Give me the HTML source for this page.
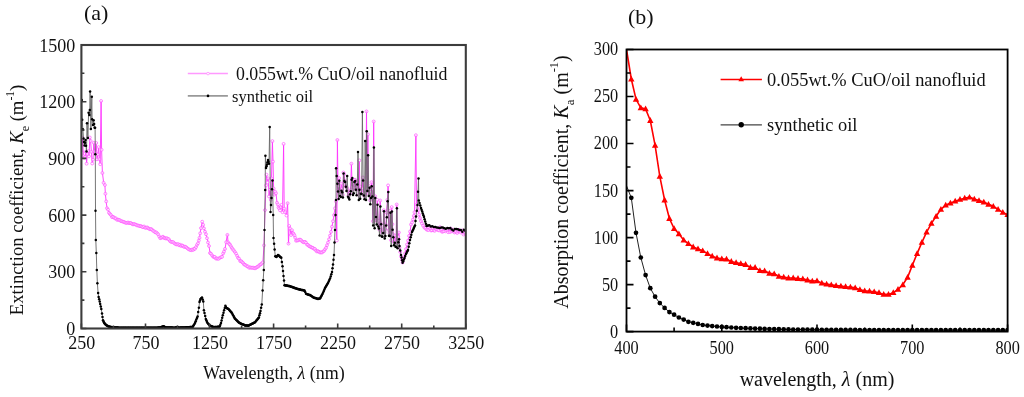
<!DOCTYPE html><html><head><meta charset="utf-8"><style>html,body{margin:0;padding:0;background:#fff;overflow:hidden}svg{display:block;will-change:transform}</style></head><body><svg width="1024" height="397" viewBox="0 0 1024 397">
<rect width="1024" height="397" fill="#fff"/>
<g font-family="'Liberation Serif', serif" fill="#111">
<text x="84" y="20" font-size="22">(a)</text>
<text x="628" y="24" font-size="22">(b)</text>
</g>
<!-- LEFT PANEL -->
<defs><clipPath id="cl"><rect x="81.4" y="45.0" width="384.4" height="283.5"/></clipPath>
<clipPath id="cr"><rect x="626.5" y="49.5" width="381.1" height="282.1"/></clipPath></defs>
<g clip-path="url(#cl)">
<polyline points="81.8,152.4 82.6,138.1 83.4,155.9 84.2,158.1 85.0,156.9 85.8,151.5 86.6,163.2 87.4,153.6 88.2,151.2 89.0,156.3 89.8,137.7 90.6,141.3 91.4,151.9 92.2,163.1 93.0,159.3 93.8,142.6 94.6,151.0 95.4,153.3 96.2,143.4 97.0,159.4 97.8,154.8 98.6,147.5 99.4,159.2 100.2,164.0 101.1,101.0 101.6,150.0 102.4,172.6 103.6,182.2 104.9,185.1 105.4,194.3 106.2,202.0 107.0,207.8 109.0,212.5 112.0,216.8 116.0,219.0 120.0,220.8 130.0,223.4 145.1,227.2 152.0,229.5 157.2,233.2 160.2,237.8 163.0,237.0 167.8,238.5 171.0,241.5 175.3,243.8 182.9,246.1 187.0,248.0 190.4,249.8 195.0,249.1 198.0,243.0 199.5,237.8 201.0,228.0 202.2,221.9 204.0,228.0 207.0,237.8 209.0,246.0 210.0,252.9 213.0,256.5 217.6,258.9 222.1,256.6 225.0,249.0 227.4,234.4 228.1,242.7 230.0,245.0 232.7,248.7 236.0,254.0 240.2,260.8 245.0,265.0 249.3,267.6 255.3,268.3 259.0,266.0 262.9,262.3 264.0,245.0 265.0,210.0 266.0,185.0 266.5,175.0 267.5,182.0 268.2,178.0 269.0,196.0 270.0,190.0 270.8,200.0 271.5,178.0 272.4,141.4 273.0,161.0 273.6,188.0 274.2,195.0 275.2,192.0 276.0,193.0 277.0,203.0 278.5,207.0 280.0,210.0 281.5,205.0 282.5,212.0 283.6,144.5 284.2,209.0 285.2,212.0 286.5,215.0 287.6,202.6 288.5,244.1 289.2,226.0 290.0,228.2 291.0,235.0 292.0,230.0 293.0,233.5 294.5,236.0 296.0,240.6 300.0,240.0 305.0,242.3 310.0,246.7 313.0,248.0 317.0,251.1 322.0,252.9 325.0,250.0 328.0,242.3 331.0,232.0 333.0,221.2 335.0,208.0 336.0,201.8 336.8,240.0 337.4,139.7 338.0,186.0 338.4,191.2 339.1,178.2 339.8,191.7 340.6,190.9 341.3,183.5 342.0,188.8 342.7,194.5 343.4,172.6 344.2,174.0 344.9,181.4 345.6,186.1 346.3,186.6 347.0,188.7 347.8,191.3 348.5,195.5 349.2,193.4 349.9,193.7 350.6,189.5 351.4,163.5 352.1,184.1 352.8,189.3 353.5,187.6 354.2,179.9 355.0,179.8 355.7,186.8 356.4,189.5 357.1,181.4 357.8,180.5 358.6,194.3 359.3,161.0 360.0,191.2 360.7,186.4 361.4,190.5 362.2,188.5 362.9,178.1 363.6,192.9 364.3,196.1 365.0,195.3 365.8,192.9 366.5,110.9 367.2,188.2 367.9,134.4 368.6,192.9 369.4,186.2 370.1,199.7 370.8,191.7 371.5,181.8 372.2,189.8 373.0,221.1 373.7,121.2 374.4,221.2 375.1,195.7 375.8,216.7 376.6,220.4 377.3,200.3 378.0,222.0 378.7,220.7 379.4,230.2 380.2,200.0 380.9,223.8 381.6,232.2 382.3,230.5 383.0,232.2 383.8,210.6 384.5,232.6 385.2,228.8 385.9,225.0 386.6,212.2 387.4,200.1 388.1,186.0 388.8,230.5 389.5,233.9 390.2,211.0 391.0,239.9 391.7,207.2 392.4,223.7 393.1,234.1 393.8,242.6 394.6,235.1 395.3,241.4 396.0,242.9 396.7,204.0 397.4,242.5 398.2,236.6 398.9,231.9 399.5,248.0 401.0,256.0 402.6,262.5 404.0,257.0 407.0,245.0 409.0,236.0 410.0,232.0 411.0,225.0 413.0,220.0 414.5,212.0 415.9,135.3 416.5,205.0 418.2,210.6 420.0,218.0 422.0,223.0 424.5,228.0 426.5,229.0 427.5,229.4 428.4,230.0 429.3,227.6 430.2,229.2 431.1,230.3 432.0,230.2 432.9,228.3 433.8,230.1 434.7,230.5 435.6,229.4 436.5,229.7 437.4,228.7 438.3,229.7 439.2,229.9 440.1,227.7 441.0,230.3 441.9,232.0 442.8,231.6 443.7,231.0 444.6,229.6 445.5,231.3 446.4,230.7 447.3,230.2 448.2,232.0 449.1,228.8 450.0,231.9 450.9,228.8 451.8,231.4 452.7,231.0 453.6,230.0 454.5,232.2 455.4,231.4 456.3,232.0 457.2,233.5 458.1,230.7 459.0,229.7 459.9,231.1 460.8,232.8 461.7,230.9 462.6,230.8 463.5,234.2 464.4,233.2 465.3,232.3" fill="none" stroke="#ff33ff" stroke-width="0.9"/>
<g fill="#fff" fill-opacity="0.6" stroke="#ff55ff" stroke-width="0.7"><circle cx="81.8" cy="152.9" r="1.45"/><circle cx="82.6" cy="137.9" r="1.45"/><circle cx="83.4" cy="156.1" r="1.45"/><circle cx="84.2" cy="157.8" r="1.45"/><circle cx="85.0" cy="156.9" r="1.45"/><circle cx="85.8" cy="151.8" r="1.45"/><circle cx="86.6" cy="163.7" r="1.45"/><circle cx="87.4" cy="154.0" r="1.45"/><circle cx="88.2" cy="151.1" r="1.45"/><circle cx="89.0" cy="156.4" r="1.45"/><circle cx="89.8" cy="137.5" r="1.45"/><circle cx="90.6" cy="140.9" r="1.45"/><circle cx="91.4" cy="151.9" r="1.45"/><circle cx="92.2" cy="163.5" r="1.45"/><circle cx="93.0" cy="159.7" r="1.45"/><circle cx="93.8" cy="142.8" r="1.45"/><circle cx="94.6" cy="151.5" r="1.45"/><circle cx="95.4" cy="153.0" r="1.45"/><circle cx="96.2" cy="143.0" r="1.45"/><circle cx="97.0" cy="159.3" r="1.45"/><circle cx="97.8" cy="154.5" r="1.45"/><circle cx="98.6" cy="147.1" r="1.45"/><circle cx="99.4" cy="159.1" r="1.45"/><circle cx="100.2" cy="164.2" r="1.45"/><circle cx="101.1" cy="101.0" r="1.45"/><circle cx="101.6" cy="149.8" r="1.45"/><circle cx="102.4" cy="173.0" r="1.45"/><circle cx="103.6" cy="182.8" r="1.45"/><circle cx="104.9" cy="185.0" r="1.45"/><circle cx="105.4" cy="193.8" r="1.45"/><circle cx="106.2" cy="201.4" r="1.45"/><circle cx="107.0" cy="208.2" r="1.45"/><circle cx="108.0" cy="209.6" r="1.45"/><circle cx="109.0" cy="212.8" r="1.45"/><circle cx="110.0" cy="214.0" r="1.45"/><circle cx="111.0" cy="215.1" r="1.45"/><circle cx="112.0" cy="217.1" r="1.45"/><circle cx="113.0" cy="216.8" r="1.45"/><circle cx="114.0" cy="217.5" r="1.45"/><circle cx="115.0" cy="218.4" r="1.45"/><circle cx="116.0" cy="218.4" r="1.45"/><circle cx="117.0" cy="219.8" r="1.45"/><circle cx="118.0" cy="219.6" r="1.45"/><circle cx="119.0" cy="219.9" r="1.45"/><circle cx="120.0" cy="220.3" r="1.45"/><circle cx="121.0" cy="221.2" r="1.45"/><circle cx="122.0" cy="221.3" r="1.45"/><circle cx="123.0" cy="221.7" r="1.45"/><circle cx="124.0" cy="222.0" r="1.45"/><circle cx="125.0" cy="222.5" r="1.45"/><circle cx="126.0" cy="222.9" r="1.45"/><circle cx="127.0" cy="222.8" r="1.45"/><circle cx="128.0" cy="222.5" r="1.45"/><circle cx="129.0" cy="223.1" r="1.45"/><circle cx="130.0" cy="223.0" r="1.45"/><circle cx="131.0" cy="223.1" r="1.45"/><circle cx="132.0" cy="223.9" r="1.45"/><circle cx="133.0" cy="224.4" r="1.45"/><circle cx="134.0" cy="224.0" r="1.45"/><circle cx="135.0" cy="224.4" r="1.45"/><circle cx="136.0" cy="224.7" r="1.45"/><circle cx="137.0" cy="225.4" r="1.45"/><circle cx="138.1" cy="225.5" r="1.45"/><circle cx="139.1" cy="225.8" r="1.45"/><circle cx="140.1" cy="226.2" r="1.45"/><circle cx="141.1" cy="226.1" r="1.45"/><circle cx="142.1" cy="226.8" r="1.45"/><circle cx="143.1" cy="227.2" r="1.45"/><circle cx="144.1" cy="226.5" r="1.45"/><circle cx="145.1" cy="227.7" r="1.45"/><circle cx="146.1" cy="227.8" r="1.45"/><circle cx="147.1" cy="227.4" r="1.45"/><circle cx="148.1" cy="228.1" r="1.45"/><circle cx="149.0" cy="228.7" r="1.45"/><circle cx="150.0" cy="229.3" r="1.45"/><circle cx="151.0" cy="229.0" r="1.45"/><circle cx="152.0" cy="229.6" r="1.45"/><circle cx="153.0" cy="230.7" r="1.45"/><circle cx="154.1" cy="231.3" r="1.45"/><circle cx="155.1" cy="232.3" r="1.45"/><circle cx="156.2" cy="232.4" r="1.45"/><circle cx="157.2" cy="233.4" r="1.45"/><circle cx="158.2" cy="234.4" r="1.45"/><circle cx="159.2" cy="236.5" r="1.45"/><circle cx="160.2" cy="238.2" r="1.45"/><circle cx="161.1" cy="237.7" r="1.45"/><circle cx="162.1" cy="237.5" r="1.45"/><circle cx="163.0" cy="236.7" r="1.45"/><circle cx="164.0" cy="237.8" r="1.45"/><circle cx="164.9" cy="238.2" r="1.45"/><circle cx="165.9" cy="238.5" r="1.45"/><circle cx="166.8" cy="238.2" r="1.45"/><circle cx="167.8" cy="238.8" r="1.45"/><circle cx="168.9" cy="239.3" r="1.45"/><circle cx="169.9" cy="241.0" r="1.45"/><circle cx="171.0" cy="241.9" r="1.45"/><circle cx="172.1" cy="241.9" r="1.45"/><circle cx="173.2" cy="242.1" r="1.45"/><circle cx="174.2" cy="243.2" r="1.45"/><circle cx="175.3" cy="243.9" r="1.45"/><circle cx="176.2" cy="244.4" r="1.45"/><circle cx="177.2" cy="244.4" r="1.45"/><circle cx="178.2" cy="244.1" r="1.45"/><circle cx="179.1" cy="245.3" r="1.45"/><circle cx="180.1" cy="244.7" r="1.45"/><circle cx="181.0" cy="245.9" r="1.45"/><circle cx="182.0" cy="245.4" r="1.45"/><circle cx="182.9" cy="245.9" r="1.45"/><circle cx="183.9" cy="246.9" r="1.45"/><circle cx="184.9" cy="246.6" r="1.45"/><circle cx="186.0" cy="247.1" r="1.45"/><circle cx="187.0" cy="248.0" r="1.45"/><circle cx="188.1" cy="248.9" r="1.45"/><circle cx="189.3" cy="249.6" r="1.45"/><circle cx="190.4" cy="250.0" r="1.45"/><circle cx="191.3" cy="250.2" r="1.45"/><circle cx="192.2" cy="249.5" r="1.45"/><circle cx="193.2" cy="249.9" r="1.45"/><circle cx="194.1" cy="248.7" r="1.45"/><circle cx="195.0" cy="248.8" r="1.45"/><circle cx="196.0" cy="247.1" r="1.45"/><circle cx="197.0" cy="244.8" r="1.45"/><circle cx="198.0" cy="243.3" r="1.45"/><circle cx="198.8" cy="240.6" r="1.45"/><circle cx="199.5" cy="237.8" r="1.45"/><circle cx="200.2" cy="233.3" r="1.45"/><circle cx="201.0" cy="228.1" r="1.45"/><circle cx="202.2" cy="221.7" r="1.45"/><circle cx="203.1" cy="224.8" r="1.45"/><circle cx="204.0" cy="228.4" r="1.45"/><circle cx="205.0" cy="231.7" r="1.45"/><circle cx="206.0" cy="234.2" r="1.45"/><circle cx="207.0" cy="238.2" r="1.45"/><circle cx="208.0" cy="242.5" r="1.45"/><circle cx="209.0" cy="246.0" r="1.45"/><circle cx="210.0" cy="253.0" r="1.45"/><circle cx="211.0" cy="253.7" r="1.45"/><circle cx="212.0" cy="255.3" r="1.45"/><circle cx="213.0" cy="256.5" r="1.45"/><circle cx="213.9" cy="257.1" r="1.45"/><circle cx="214.8" cy="256.9" r="1.45"/><circle cx="215.8" cy="258.5" r="1.45"/><circle cx="216.7" cy="258.4" r="1.45"/><circle cx="217.6" cy="258.8" r="1.45"/><circle cx="218.7" cy="258.7" r="1.45"/><circle cx="219.8" cy="257.8" r="1.45"/><circle cx="221.0" cy="257.2" r="1.45"/><circle cx="222.1" cy="256.8" r="1.45"/><circle cx="223.1" cy="253.5" r="1.45"/><circle cx="224.0" cy="251.6" r="1.45"/><circle cx="225.0" cy="248.9" r="1.45"/><circle cx="226.2" cy="242.2" r="1.45"/><circle cx="227.4" cy="234.9" r="1.45"/><circle cx="228.1" cy="242.4" r="1.45"/><circle cx="229.1" cy="243.8" r="1.45"/><circle cx="230.0" cy="244.6" r="1.45"/><circle cx="230.9" cy="246.2" r="1.45"/><circle cx="231.8" cy="247.8" r="1.45"/><circle cx="232.7" cy="249.2" r="1.45"/><circle cx="233.8" cy="250.4" r="1.45"/><circle cx="234.9" cy="252.0" r="1.45"/><circle cx="236.0" cy="253.6" r="1.45"/><circle cx="237.1" cy="255.8" r="1.45"/><circle cx="238.1" cy="257.9" r="1.45"/><circle cx="239.1" cy="258.7" r="1.45"/><circle cx="240.2" cy="261.1" r="1.45"/><circle cx="241.2" cy="261.1" r="1.45"/><circle cx="242.1" cy="262.1" r="1.45"/><circle cx="243.1" cy="263.0" r="1.45"/><circle cx="244.0" cy="264.4" r="1.45"/><circle cx="245.0" cy="264.8" r="1.45"/><circle cx="246.1" cy="265.5" r="1.45"/><circle cx="247.2" cy="266.4" r="1.45"/><circle cx="248.2" cy="266.5" r="1.45"/><circle cx="249.3" cy="267.9" r="1.45"/><circle cx="250.3" cy="267.3" r="1.45"/><circle cx="251.3" cy="267.8" r="1.45"/><circle cx="252.3" cy="267.7" r="1.45"/><circle cx="253.3" cy="267.7" r="1.45"/><circle cx="254.3" cy="268.2" r="1.45"/><circle cx="255.3" cy="268.2" r="1.45"/><circle cx="256.2" cy="267.6" r="1.45"/><circle cx="257.1" cy="267.0" r="1.45"/><circle cx="258.1" cy="266.6" r="1.45"/><circle cx="259.0" cy="265.6" r="1.45"/><circle cx="260.0" cy="264.7" r="1.45"/><circle cx="260.9" cy="264.3" r="1.45"/><circle cx="261.9" cy="263.4" r="1.45"/><circle cx="262.9" cy="262.3" r="1.45"/><circle cx="264.0" cy="245.4" r="1.45"/><circle cx="265.0" cy="210.1" r="1.45"/><circle cx="266.0" cy="185.4" r="1.45"/><circle cx="266.5" cy="174.7" r="1.45"/><circle cx="267.5" cy="182.3" r="1.45"/><circle cx="268.2" cy="178.4" r="1.45"/><circle cx="269.0" cy="196.5" r="1.45"/><circle cx="270.0" cy="189.8" r="1.45"/><circle cx="270.8" cy="199.8" r="1.45"/><circle cx="271.5" cy="178.5" r="1.45"/><circle cx="272.4" cy="141.1" r="1.45"/><circle cx="273.0" cy="161.6" r="1.45"/><circle cx="273.6" cy="188.5" r="1.45"/><circle cx="274.2" cy="194.6" r="1.45"/><circle cx="275.2" cy="191.7" r="1.45"/><circle cx="276.0" cy="193.3" r="1.45"/><circle cx="277.0" cy="202.7" r="1.45"/><circle cx="277.8" cy="204.5" r="1.45"/><circle cx="278.5" cy="207.4" r="1.45"/><circle cx="279.2" cy="208.4" r="1.45"/><circle cx="280.0" cy="210.3" r="1.45"/><circle cx="280.8" cy="207.1" r="1.45"/><circle cx="281.5" cy="204.9" r="1.45"/><circle cx="282.5" cy="212.2" r="1.45"/><circle cx="283.6" cy="143.9" r="1.45"/><circle cx="284.2" cy="208.6" r="1.45"/><circle cx="285.2" cy="212.2" r="1.45"/><circle cx="286.5" cy="215.5" r="1.45"/><circle cx="287.6" cy="203.2" r="1.45"/><circle cx="288.5" cy="243.6" r="1.45"/><circle cx="289.2" cy="226.0" r="1.45"/><circle cx="290.0" cy="228.5" r="1.45"/><circle cx="291.0" cy="235.0" r="1.45"/><circle cx="292.0" cy="230.2" r="1.45"/><circle cx="293.0" cy="233.1" r="1.45"/><circle cx="293.8" cy="234.2" r="1.45"/><circle cx="294.5" cy="235.5" r="1.45"/><circle cx="295.2" cy="237.7" r="1.45"/><circle cx="296.0" cy="240.7" r="1.45"/><circle cx="297.0" cy="240.5" r="1.45"/><circle cx="298.0" cy="240.4" r="1.45"/><circle cx="299.0" cy="239.7" r="1.45"/><circle cx="300.0" cy="239.6" r="1.45"/><circle cx="301.0" cy="240.1" r="1.45"/><circle cx="302.0" cy="241.3" r="1.45"/><circle cx="303.0" cy="242.0" r="1.45"/><circle cx="304.0" cy="242.4" r="1.45"/><circle cx="305.0" cy="241.8" r="1.45"/><circle cx="306.0" cy="242.7" r="1.45"/><circle cx="307.0" cy="244.6" r="1.45"/><circle cx="308.0" cy="244.9" r="1.45"/><circle cx="309.0" cy="246.1" r="1.45"/><circle cx="310.0" cy="246.5" r="1.45"/><circle cx="311.0" cy="247.1" r="1.45"/><circle cx="312.0" cy="247.6" r="1.45"/><circle cx="313.0" cy="247.9" r="1.45"/><circle cx="314.0" cy="248.9" r="1.45"/><circle cx="315.0" cy="249.0" r="1.45"/><circle cx="316.0" cy="250.6" r="1.45"/><circle cx="317.0" cy="251.5" r="1.45"/><circle cx="318.0" cy="251.1" r="1.45"/><circle cx="319.0" cy="251.8" r="1.45"/><circle cx="320.0" cy="252.5" r="1.45"/><circle cx="321.0" cy="252.4" r="1.45"/><circle cx="322.0" cy="252.5" r="1.45"/><circle cx="323.0" cy="251.5" r="1.45"/><circle cx="324.0" cy="251.0" r="1.45"/><circle cx="325.0" cy="249.4" r="1.45"/><circle cx="326.0" cy="247.9" r="1.45"/><circle cx="327.0" cy="245.2" r="1.45"/><circle cx="328.0" cy="242.5" r="1.45"/><circle cx="329.0" cy="239.3" r="1.45"/><circle cx="330.0" cy="235.6" r="1.45"/><circle cx="331.0" cy="231.9" r="1.45"/><circle cx="332.0" cy="226.7" r="1.45"/><circle cx="333.0" cy="221.2" r="1.45"/><circle cx="334.0" cy="215.2" r="1.45"/><circle cx="335.0" cy="208.4" r="1.45"/><circle cx="336.0" cy="201.5" r="1.45"/><circle cx="336.8" cy="240.5" r="1.45"/><circle cx="337.4" cy="140.0" r="1.45"/><circle cx="338.0" cy="186.3" r="1.45"/><circle cx="338.4" cy="191.6" r="1.45"/><circle cx="339.1" cy="178.1" r="1.45"/><circle cx="339.8" cy="192.2" r="1.45"/><circle cx="340.6" cy="191.4" r="1.45"/><circle cx="341.3" cy="183.7" r="1.45"/><circle cx="342.0" cy="189.1" r="1.45"/><circle cx="342.7" cy="194.8" r="1.45"/><circle cx="343.4" cy="172.5" r="1.45"/><circle cx="344.2" cy="174.3" r="1.45"/><circle cx="344.9" cy="180.9" r="1.45"/><circle cx="345.6" cy="185.9" r="1.45"/><circle cx="346.3" cy="186.6" r="1.45"/><circle cx="347.0" cy="188.1" r="1.45"/><circle cx="347.8" cy="191.1" r="1.45"/><circle cx="348.5" cy="195.7" r="1.45"/><circle cx="349.2" cy="193.5" r="1.45"/><circle cx="349.9" cy="193.4" r="1.45"/><circle cx="350.6" cy="190.1" r="1.45"/><circle cx="351.4" cy="163.7" r="1.45"/><circle cx="352.1" cy="183.9" r="1.45"/><circle cx="352.8" cy="189.5" r="1.45"/><circle cx="353.5" cy="187.7" r="1.45"/><circle cx="354.2" cy="179.9" r="1.45"/><circle cx="355.0" cy="179.7" r="1.45"/><circle cx="355.7" cy="187.4" r="1.45"/><circle cx="356.4" cy="189.6" r="1.45"/><circle cx="357.1" cy="181.7" r="1.45"/><circle cx="357.8" cy="180.8" r="1.45"/><circle cx="358.6" cy="194.9" r="1.45"/><circle cx="359.3" cy="160.4" r="1.45"/><circle cx="360.0" cy="191.4" r="1.45"/><circle cx="360.7" cy="186.7" r="1.45"/><circle cx="361.4" cy="190.2" r="1.45"/><circle cx="362.2" cy="188.4" r="1.45"/><circle cx="362.9" cy="177.5" r="1.45"/><circle cx="363.6" cy="192.6" r="1.45"/><circle cx="364.3" cy="196.0" r="1.45"/><circle cx="365.0" cy="194.8" r="1.45"/><circle cx="365.8" cy="192.6" r="1.45"/><circle cx="366.5" cy="111.4" r="1.45"/><circle cx="367.2" cy="188.3" r="1.45"/><circle cx="367.9" cy="134.4" r="1.45"/><circle cx="368.6" cy="193.5" r="1.45"/><circle cx="369.4" cy="186.2" r="1.45"/><circle cx="370.1" cy="200.3" r="1.45"/><circle cx="370.8" cy="191.9" r="1.45"/><circle cx="371.5" cy="182.2" r="1.45"/><circle cx="372.2" cy="189.3" r="1.45"/><circle cx="373.0" cy="221.2" r="1.45"/><circle cx="373.7" cy="121.5" r="1.45"/><circle cx="374.4" cy="220.7" r="1.45"/><circle cx="375.1" cy="196.2" r="1.45"/><circle cx="375.8" cy="216.3" r="1.45"/><circle cx="376.6" cy="220.4" r="1.45"/><circle cx="377.3" cy="199.9" r="1.45"/><circle cx="378.0" cy="222.0" r="1.45"/><circle cx="378.7" cy="220.9" r="1.45"/><circle cx="379.4" cy="229.6" r="1.45"/><circle cx="380.2" cy="200.5" r="1.45"/><circle cx="380.9" cy="223.7" r="1.45"/><circle cx="381.6" cy="232.2" r="1.45"/><circle cx="382.3" cy="230.6" r="1.45"/><circle cx="383.0" cy="232.1" r="1.45"/><circle cx="383.8" cy="210.3" r="1.45"/><circle cx="384.5" cy="232.8" r="1.45"/><circle cx="385.2" cy="228.9" r="1.45"/><circle cx="385.9" cy="224.7" r="1.45"/><circle cx="386.6" cy="212.5" r="1.45"/><circle cx="387.4" cy="199.9" r="1.45"/><circle cx="388.1" cy="185.4" r="1.45"/><circle cx="388.8" cy="230.2" r="1.45"/><circle cx="389.5" cy="233.3" r="1.45"/><circle cx="390.2" cy="210.6" r="1.45"/><circle cx="391.0" cy="240.2" r="1.45"/><circle cx="391.7" cy="207.1" r="1.45"/><circle cx="392.4" cy="224.2" r="1.45"/><circle cx="393.1" cy="234.4" r="1.45"/><circle cx="393.8" cy="242.1" r="1.45"/><circle cx="394.6" cy="235.7" r="1.45"/><circle cx="395.3" cy="242.0" r="1.45"/><circle cx="396.0" cy="242.4" r="1.45"/><circle cx="396.7" cy="204.5" r="1.45"/><circle cx="397.4" cy="242.4" r="1.45"/><circle cx="398.2" cy="236.6" r="1.45"/><circle cx="398.9" cy="232.5" r="1.45"/><circle cx="399.5" cy="247.7" r="1.45"/><circle cx="400.2" cy="252.0" r="1.45"/><circle cx="401.0" cy="256.5" r="1.45"/><circle cx="401.8" cy="259.5" r="1.45"/><circle cx="402.6" cy="262.5" r="1.45"/><circle cx="404.0" cy="257.6" r="1.45"/><circle cx="405.0" cy="253.4" r="1.45"/><circle cx="406.0" cy="249.1" r="1.45"/><circle cx="407.0" cy="244.5" r="1.45"/><circle cx="408.0" cy="240.6" r="1.45"/><circle cx="409.0" cy="235.9" r="1.45"/><circle cx="410.0" cy="231.6" r="1.45"/><circle cx="411.0" cy="224.5" r="1.45"/><circle cx="412.0" cy="222.5" r="1.45"/><circle cx="413.0" cy="219.5" r="1.45"/><circle cx="413.8" cy="215.9" r="1.45"/><circle cx="414.5" cy="212.2" r="1.45"/><circle cx="415.9" cy="135.2" r="1.45"/><circle cx="416.5" cy="204.7" r="1.45"/><circle cx="417.4" cy="207.9" r="1.45"/><circle cx="418.2" cy="210.5" r="1.45"/><circle cx="419.1" cy="214.6" r="1.45"/><circle cx="420.0" cy="218.0" r="1.45"/><circle cx="421.0" cy="221.1" r="1.45"/><circle cx="422.0" cy="223.5" r="1.45"/><circle cx="423.2" cy="225.8" r="1.45"/><circle cx="424.5" cy="227.7" r="1.45"/><circle cx="425.5" cy="228.0" r="1.45"/><circle cx="426.5" cy="229.5" r="1.45"/><circle cx="427.5" cy="229.7" r="1.45"/><circle cx="428.4" cy="230.1" r="1.45"/><circle cx="429.3" cy="227.5" r="1.45"/><circle cx="430.2" cy="228.9" r="1.45"/><circle cx="431.1" cy="230.5" r="1.45"/><circle cx="432.0" cy="230.3" r="1.45"/><circle cx="432.9" cy="228.5" r="1.45"/><circle cx="433.8" cy="230.3" r="1.45"/><circle cx="434.7" cy="230.8" r="1.45"/><circle cx="435.6" cy="229.0" r="1.45"/><circle cx="436.5" cy="229.4" r="1.45"/><circle cx="437.4" cy="229.3" r="1.45"/><circle cx="438.3" cy="230.2" r="1.45"/><circle cx="439.2" cy="230.4" r="1.45"/><circle cx="440.1" cy="227.2" r="1.45"/><circle cx="441.0" cy="229.8" r="1.45"/><circle cx="441.9" cy="231.7" r="1.45"/><circle cx="442.8" cy="231.5" r="1.45"/><circle cx="443.7" cy="231.2" r="1.45"/><circle cx="444.6" cy="229.1" r="1.45"/><circle cx="445.5" cy="231.3" r="1.45"/><circle cx="446.4" cy="230.2" r="1.45"/><circle cx="447.3" cy="229.7" r="1.45"/><circle cx="448.2" cy="232.2" r="1.45"/><circle cx="449.1" cy="228.9" r="1.45"/><circle cx="450.0" cy="232.0" r="1.45"/><circle cx="450.9" cy="228.6" r="1.45"/><circle cx="451.8" cy="231.4" r="1.45"/><circle cx="452.7" cy="230.7" r="1.45"/><circle cx="453.6" cy="229.8" r="1.45"/><circle cx="454.5" cy="232.5" r="1.45"/><circle cx="455.4" cy="231.8" r="1.45"/><circle cx="456.3" cy="231.5" r="1.45"/><circle cx="457.2" cy="233.0" r="1.45"/><circle cx="458.1" cy="231.0" r="1.45"/><circle cx="459.0" cy="229.8" r="1.45"/><circle cx="459.9" cy="231.4" r="1.45"/><circle cx="460.8" cy="232.5" r="1.45"/><circle cx="461.7" cy="230.8" r="1.45"/><circle cx="462.6" cy="230.5" r="1.45"/><circle cx="463.5" cy="234.5" r="1.45"/><circle cx="464.4" cy="233.0" r="1.45"/><circle cx="465.3" cy="232.5" r="1.45"/></g>
<polyline points="81.8,100.0 82.2,119.7 83.5,138.6 84.5,145.6 85.5,140.0 86.5,151.4 87.0,123.2 87.9,137.9 88.6,112.7 89.3,115.0 89.8,110.1 90.1,91.5 90.9,129.0 91.8,96.8 92.1,119.2 93.0,125.0 93.6,120.2 94.6,127.8 95.1,127.8 95.3,154.2 95.5,210.8 95.8,240.0 96.3,253.0 96.8,270.0 97.4,283.3 98.1,293.1 98.6,297.0 99.2,299.2 100.2,304.0 101.3,309.0 102.0,313.5 103.0,320.3 104.0,322.5 105.0,324.0 108.0,326.3 112.0,327.2 120.0,327.8 150.0,327.8 160.0,327.6 163.5,326.3 166.0,327.5 175.0,327.7 177.3,327.0 179.0,327.7 192.6,327.0 195.1,322.8 197.6,316.5 198.9,307.7 199.5,302.0 200.5,299.0 202.0,297.6 203.3,301.4 203.9,310.2 205.8,319.0 207.5,323.0 209.6,325.4 214.0,327.2 219.7,326.6 221.0,323.0 222.2,317.8 224.1,310.2 225.4,305.8 226.5,308.0 228.5,309.0 231.7,312.7 234.8,318.4 239.2,322.8 245.0,325.4 248.2,325.7 254.8,322.5 258.9,317.5 260.5,311.0 261.8,304.4 262.6,290.5 263.8,270.0 264.5,230.0 265.2,190.0 265.4,155.8 266.0,168.0 267.0,164.5 268.0,160.0 269.0,163.7 269.7,126.9 270.5,212.0 271.5,198.0 272.5,180.5 273.2,215.0 273.5,238.1 274.6,249.5 275.3,256.3 276.5,257.0 278.0,255.0 281.3,257.8 282.5,266.3 283.5,276.0 284.5,285.2 290.0,286.2 295.0,288.1 300.0,289.6 304.5,290.5 306.0,293.8 310.0,295.1 313.5,297.5 318.0,298.9 320.0,298.5 322.5,294.0 325.0,288.1 328.0,283.0 330.0,278.6 332.0,272.0 333.0,264.5 334.0,255.0 335.0,230.0 336.0,200.0 336.1,168.2 338.6,199.1 339.3,180.8 340.0,196.1 340.8,196.9 341.5,190.8 342.2,192.2 342.9,197.4 343.6,173.4 344.4,181.0 345.1,182.1 345.8,186.7 346.5,191.1 347.2,176.0 348.0,196.7 348.7,197.9 349.4,199.6 350.1,194.3 350.8,191.3 351.6,179.7 352.3,178.0 353.0,195.1 353.7,193.2 354.4,182.1 355.2,180.9 355.9,189.7 356.6,195.3 357.3,184.4 358.0,152.0 358.8,200.0 359.5,189.8 360.2,198.8 360.9,193.7 361.6,194.0 362.4,111.9 363.1,180.5 363.8,195.5 364.5,199.3 365.2,140.9 366.0,200.1 366.7,131.3 367.4,191.1 368.1,155.3 368.8,196.0 369.6,187.7 370.3,204.2 371.0,198.1 371.7,186.2 372.4,196.5 373.2,225.6 373.9,147.6 374.6,228.3 375.3,197.9 376.0,216.9 376.8,224.6 377.5,204.7 378.2,226.6 378.9,228.5 379.6,235.4 380.4,206.4 381.1,224.3 381.8,236.6 382.5,236.8 383.2,232.9 384.0,211.2 384.7,238.5 385.4,236.0 386.1,225.6 386.8,217.3 387.6,201.3 388.3,192.0 389.0,235.7 389.7,235.9 390.4,212.8 391.2,246.0 391.9,211.4 392.6,229.8 393.3,237.2 394.0,245.3 394.8,242.8 395.5,246.8 396.2,246.9 396.9,208.3 397.6,248.3 398.4,242.2 399.1,239.2 399.5,246.0 401.0,255.0 402.6,262.8 404.5,258.0 406.0,254.0 408.0,250.0 410.0,240.0 412.0,232.0 415.0,225.5 416.0,216.5 417.5,205.0 418.5,178.5 418.8,200.6 421.0,208.0 424.0,217.0 426.5,226.0 428.0,225.5 429.3,225.2 430.8,226.4 432.3,226.2 433.8,226.9 435.3,227.1 436.8,227.4 438.3,227.7 439.8,228.1 441.3,227.6 442.8,227.6 444.3,228.3 445.8,228.7 447.3,228.1 448.8,228.3 450.3,227.9 451.8,229.5 453.3,230.4 454.8,229.1 456.3,228.9 457.8,229.2 459.3,230.0 460.8,229.9 462.3,231.8 463.8,229.8 465.3,230.7" fill="none" stroke="#666" stroke-width="0.9"/>
<g fill="#000"><circle cx="81.8" cy="100.0" r="1.25"/><circle cx="82.2" cy="119.7" r="1.25"/><circle cx="82.8" cy="129.2" r="1.25"/><circle cx="83.5" cy="138.6" r="1.25"/><circle cx="84.0" cy="142.1" r="1.25"/><circle cx="84.5" cy="145.6" r="1.25"/><circle cx="85.0" cy="142.8" r="1.25"/><circle cx="85.5" cy="140.0" r="1.25"/><circle cx="86.0" cy="145.7" r="1.25"/><circle cx="86.5" cy="151.4" r="1.25"/><circle cx="87.0" cy="123.2" r="1.25"/><circle cx="87.9" cy="137.9" r="1.25"/><circle cx="88.6" cy="112.7" r="1.25"/><circle cx="89.3" cy="115.0" r="1.25"/><circle cx="89.8" cy="110.1" r="1.25"/><circle cx="90.1" cy="91.5" r="1.25"/><circle cx="90.9" cy="129.0" r="1.25"/><circle cx="91.8" cy="96.8" r="1.25"/><circle cx="92.1" cy="119.2" r="1.25"/><circle cx="93.0" cy="125.0" r="1.25"/><circle cx="93.6" cy="120.2" r="1.25"/><circle cx="94.1" cy="124.0" r="1.25"/><circle cx="94.6" cy="127.8" r="1.25"/><circle cx="95.1" cy="127.8" r="1.25"/><circle cx="95.3" cy="154.2" r="1.25"/><circle cx="95.5" cy="210.8" r="1.25"/><circle cx="95.8" cy="240.0" r="1.25"/><circle cx="96.3" cy="253.0" r="1.25"/><circle cx="96.8" cy="270.0" r="1.25"/><circle cx="97.4" cy="283.3" r="1.25"/><circle cx="98.1" cy="293.1" r="1.25"/><circle cx="98.6" cy="297.0" r="1.25"/><circle cx="99.2" cy="299.2" r="1.25"/><circle cx="99.7" cy="301.6" r="1.25"/><circle cx="100.2" cy="304.0" r="1.25"/><circle cx="100.8" cy="306.5" r="1.25"/><circle cx="101.3" cy="309.0" r="1.25"/><circle cx="102.0" cy="313.5" r="1.25"/><circle cx="102.5" cy="316.9" r="1.25"/><circle cx="103.0" cy="320.3" r="1.25"/><circle cx="103.5" cy="321.4" r="1.25"/><circle cx="104.0" cy="322.5" r="1.25"/><circle cx="104.5" cy="323.2" r="1.25"/><circle cx="105.0" cy="324.0" r="1.25"/><circle cx="105.6" cy="324.5" r="1.25"/><circle cx="106.2" cy="324.9" r="1.25"/><circle cx="106.8" cy="325.4" r="1.25"/><circle cx="107.4" cy="325.8" r="1.25"/><circle cx="108.0" cy="326.3" r="1.25"/><circle cx="108.7" cy="326.4" r="1.25"/><circle cx="109.3" cy="326.6" r="1.25"/><circle cx="110.0" cy="326.8" r="1.25"/><circle cx="110.7" cy="326.9" r="1.25"/><circle cx="111.3" cy="327.1" r="1.25"/><circle cx="112.0" cy="327.2" r="1.25"/><circle cx="112.7" cy="327.2" r="1.25"/><circle cx="113.3" cy="327.3" r="1.25"/><circle cx="114.0" cy="327.4" r="1.25"/><circle cx="114.7" cy="327.4" r="1.25"/><circle cx="115.3" cy="327.4" r="1.25"/><circle cx="116.0" cy="327.5" r="1.25"/><circle cx="116.7" cy="327.6" r="1.25"/><circle cx="117.3" cy="327.6" r="1.25"/><circle cx="118.0" cy="327.6" r="1.25"/><circle cx="118.7" cy="327.7" r="1.25"/><circle cx="119.3" cy="327.8" r="1.25"/><circle cx="120.0" cy="327.8" r="1.25"/><circle cx="120.6" cy="327.8" r="1.25"/><circle cx="121.3" cy="327.8" r="1.25"/><circle cx="121.9" cy="327.8" r="1.25"/><circle cx="122.6" cy="327.8" r="1.25"/><circle cx="123.2" cy="327.8" r="1.25"/><circle cx="123.8" cy="327.8" r="1.25"/><circle cx="124.5" cy="327.8" r="1.25"/><circle cx="125.1" cy="327.8" r="1.25"/><circle cx="125.7" cy="327.8" r="1.25"/><circle cx="126.4" cy="327.8" r="1.25"/><circle cx="127.0" cy="327.8" r="1.25"/><circle cx="127.7" cy="327.8" r="1.25"/><circle cx="128.3" cy="327.8" r="1.25"/><circle cx="128.9" cy="327.8" r="1.25"/><circle cx="129.6" cy="327.8" r="1.25"/><circle cx="130.2" cy="327.8" r="1.25"/><circle cx="130.9" cy="327.8" r="1.25"/><circle cx="131.5" cy="327.8" r="1.25"/><circle cx="132.1" cy="327.8" r="1.25"/><circle cx="132.8" cy="327.8" r="1.25"/><circle cx="133.4" cy="327.8" r="1.25"/><circle cx="134.0" cy="327.8" r="1.25"/><circle cx="134.7" cy="327.8" r="1.25"/><circle cx="135.3" cy="327.8" r="1.25"/><circle cx="136.0" cy="327.8" r="1.25"/><circle cx="136.6" cy="327.8" r="1.25"/><circle cx="137.2" cy="327.8" r="1.25"/><circle cx="137.9" cy="327.8" r="1.25"/><circle cx="138.5" cy="327.8" r="1.25"/><circle cx="139.1" cy="327.8" r="1.25"/><circle cx="139.8" cy="327.8" r="1.25"/><circle cx="140.4" cy="327.8" r="1.25"/><circle cx="141.1" cy="327.8" r="1.25"/><circle cx="141.7" cy="327.8" r="1.25"/><circle cx="142.3" cy="327.8" r="1.25"/><circle cx="143.0" cy="327.8" r="1.25"/><circle cx="143.6" cy="327.8" r="1.25"/><circle cx="144.3" cy="327.8" r="1.25"/><circle cx="144.9" cy="327.8" r="1.25"/><circle cx="145.5" cy="327.8" r="1.25"/><circle cx="146.2" cy="327.8" r="1.25"/><circle cx="146.8" cy="327.8" r="1.25"/><circle cx="147.4" cy="327.8" r="1.25"/><circle cx="148.1" cy="327.8" r="1.25"/><circle cx="148.7" cy="327.8" r="1.25"/><circle cx="149.4" cy="327.8" r="1.25"/><circle cx="150.0" cy="327.8" r="1.25"/><circle cx="150.6" cy="327.8" r="1.25"/><circle cx="151.2" cy="327.8" r="1.25"/><circle cx="151.9" cy="327.8" r="1.25"/><circle cx="152.5" cy="327.8" r="1.25"/><circle cx="153.1" cy="327.7" r="1.25"/><circle cx="153.8" cy="327.7" r="1.25"/><circle cx="154.4" cy="327.7" r="1.25"/><circle cx="155.0" cy="327.7" r="1.25"/><circle cx="155.6" cy="327.7" r="1.25"/><circle cx="156.2" cy="327.7" r="1.25"/><circle cx="156.9" cy="327.7" r="1.25"/><circle cx="157.5" cy="327.7" r="1.25"/><circle cx="158.1" cy="327.6" r="1.25"/><circle cx="158.8" cy="327.6" r="1.25"/><circle cx="159.4" cy="327.6" r="1.25"/><circle cx="160.0" cy="327.6" r="1.25"/><circle cx="160.7" cy="327.3" r="1.25"/><circle cx="161.4" cy="327.1" r="1.25"/><circle cx="162.1" cy="326.8" r="1.25"/><circle cx="162.8" cy="326.6" r="1.25"/><circle cx="163.5" cy="326.3" r="1.25"/><circle cx="164.1" cy="326.6" r="1.25"/><circle cx="164.8" cy="326.9" r="1.25"/><circle cx="165.4" cy="327.2" r="1.25"/><circle cx="166.0" cy="327.5" r="1.25"/><circle cx="166.6" cy="327.5" r="1.25"/><circle cx="167.3" cy="327.5" r="1.25"/><circle cx="167.9" cy="327.5" r="1.25"/><circle cx="168.6" cy="327.6" r="1.25"/><circle cx="169.2" cy="327.6" r="1.25"/><circle cx="169.9" cy="327.6" r="1.25"/><circle cx="170.5" cy="327.6" r="1.25"/><circle cx="171.1" cy="327.6" r="1.25"/><circle cx="171.8" cy="327.6" r="1.25"/><circle cx="172.4" cy="327.6" r="1.25"/><circle cx="173.1" cy="327.7" r="1.25"/><circle cx="173.7" cy="327.7" r="1.25"/><circle cx="174.4" cy="327.7" r="1.25"/><circle cx="175.0" cy="327.7" r="1.25"/><circle cx="175.6" cy="327.5" r="1.25"/><circle cx="176.2" cy="327.4" r="1.25"/><circle cx="176.7" cy="327.2" r="1.25"/><circle cx="177.3" cy="327.0" r="1.25"/><circle cx="177.9" cy="327.2" r="1.25"/><circle cx="178.4" cy="327.5" r="1.25"/><circle cx="179.0" cy="327.7" r="1.25"/><circle cx="179.6" cy="327.7" r="1.25"/><circle cx="180.3" cy="327.6" r="1.25"/><circle cx="180.9" cy="327.6" r="1.25"/><circle cx="181.6" cy="327.6" r="1.25"/><circle cx="182.2" cy="327.5" r="1.25"/><circle cx="182.9" cy="327.5" r="1.25"/><circle cx="183.5" cy="327.5" r="1.25"/><circle cx="184.2" cy="327.4" r="1.25"/><circle cx="184.8" cy="327.4" r="1.25"/><circle cx="185.5" cy="327.4" r="1.25"/><circle cx="186.1" cy="327.3" r="1.25"/><circle cx="186.8" cy="327.3" r="1.25"/><circle cx="187.4" cy="327.3" r="1.25"/><circle cx="188.1" cy="327.2" r="1.25"/><circle cx="188.7" cy="327.2" r="1.25"/><circle cx="189.4" cy="327.2" r="1.25"/><circle cx="190.0" cy="327.1" r="1.25"/><circle cx="190.7" cy="327.1" r="1.25"/><circle cx="191.3" cy="327.1" r="1.25"/><circle cx="192.0" cy="327.0" r="1.25"/><circle cx="192.6" cy="327.0" r="1.25"/><circle cx="193.2" cy="325.9" r="1.25"/><circle cx="193.8" cy="324.9" r="1.25"/><circle cx="194.5" cy="323.9" r="1.25"/><circle cx="195.1" cy="322.8" r="1.25"/><circle cx="195.7" cy="321.2" r="1.25"/><circle cx="196.3" cy="319.6" r="1.25"/><circle cx="197.0" cy="318.1" r="1.25"/><circle cx="197.6" cy="316.5" r="1.25"/><circle cx="198.2" cy="312.1" r="1.25"/><circle cx="198.9" cy="307.7" r="1.25"/><circle cx="199.5" cy="302.0" r="1.25"/><circle cx="200.0" cy="300.5" r="1.25"/><circle cx="200.5" cy="299.0" r="1.25"/><circle cx="201.2" cy="298.3" r="1.25"/><circle cx="202.0" cy="297.6" r="1.25"/><circle cx="202.7" cy="299.5" r="1.25"/><circle cx="203.3" cy="301.4" r="1.25"/><circle cx="203.9" cy="310.2" r="1.25"/><circle cx="204.5" cy="313.1" r="1.25"/><circle cx="205.2" cy="316.1" r="1.25"/><circle cx="205.8" cy="319.0" r="1.25"/><circle cx="206.4" cy="320.3" r="1.25"/><circle cx="206.9" cy="321.7" r="1.25"/><circle cx="207.5" cy="323.0" r="1.25"/><circle cx="208.2" cy="323.8" r="1.25"/><circle cx="208.9" cy="324.6" r="1.25"/><circle cx="209.6" cy="325.4" r="1.25"/><circle cx="210.2" cy="325.7" r="1.25"/><circle cx="210.9" cy="325.9" r="1.25"/><circle cx="211.5" cy="326.2" r="1.25"/><circle cx="212.1" cy="326.4" r="1.25"/><circle cx="212.7" cy="326.7" r="1.25"/><circle cx="213.4" cy="326.9" r="1.25"/><circle cx="214.0" cy="327.2" r="1.25"/><circle cx="214.6" cy="327.1" r="1.25"/><circle cx="215.3" cy="327.1" r="1.25"/><circle cx="215.9" cy="327.0" r="1.25"/><circle cx="216.5" cy="326.9" r="1.25"/><circle cx="217.2" cy="326.9" r="1.25"/><circle cx="217.8" cy="326.8" r="1.25"/><circle cx="218.4" cy="326.7" r="1.25"/><circle cx="219.1" cy="326.7" r="1.25"/><circle cx="219.7" cy="326.6" r="1.25"/><circle cx="220.3" cy="324.8" r="1.25"/><circle cx="221.0" cy="323.0" r="1.25"/><circle cx="221.6" cy="320.4" r="1.25"/><circle cx="222.2" cy="317.8" r="1.25"/><circle cx="222.8" cy="315.3" r="1.25"/><circle cx="223.5" cy="312.7" r="1.25"/><circle cx="224.1" cy="310.2" r="1.25"/><circle cx="224.8" cy="308.0" r="1.25"/><circle cx="225.4" cy="305.8" r="1.25"/><circle cx="225.9" cy="306.9" r="1.25"/><circle cx="226.5" cy="308.0" r="1.25"/><circle cx="227.2" cy="308.3" r="1.25"/><circle cx="227.8" cy="308.7" r="1.25"/><circle cx="228.5" cy="309.0" r="1.25"/><circle cx="229.1" cy="309.7" r="1.25"/><circle cx="229.8" cy="310.5" r="1.25"/><circle cx="230.4" cy="311.2" r="1.25"/><circle cx="231.1" cy="312.0" r="1.25"/><circle cx="231.7" cy="312.7" r="1.25"/><circle cx="232.3" cy="313.8" r="1.25"/><circle cx="232.9" cy="315.0" r="1.25"/><circle cx="233.6" cy="316.1" r="1.25"/><circle cx="234.2" cy="317.3" r="1.25"/><circle cx="234.8" cy="318.4" r="1.25"/><circle cx="235.4" cy="319.0" r="1.25"/><circle cx="236.1" cy="319.7" r="1.25"/><circle cx="236.7" cy="320.3" r="1.25"/><circle cx="237.3" cy="320.9" r="1.25"/><circle cx="237.9" cy="321.5" r="1.25"/><circle cx="238.6" cy="322.2" r="1.25"/><circle cx="239.2" cy="322.8" r="1.25"/><circle cx="239.8" cy="323.1" r="1.25"/><circle cx="240.5" cy="323.4" r="1.25"/><circle cx="241.1" cy="323.7" r="1.25"/><circle cx="241.8" cy="324.0" r="1.25"/><circle cx="242.4" cy="324.2" r="1.25"/><circle cx="243.1" cy="324.5" r="1.25"/><circle cx="243.7" cy="324.8" r="1.25"/><circle cx="244.4" cy="325.1" r="1.25"/><circle cx="245.0" cy="325.4" r="1.25"/><circle cx="245.6" cy="325.5" r="1.25"/><circle cx="246.3" cy="325.5" r="1.25"/><circle cx="246.9" cy="325.6" r="1.25"/><circle cx="247.6" cy="325.6" r="1.25"/><circle cx="248.2" cy="325.7" r="1.25"/><circle cx="248.9" cy="325.4" r="1.25"/><circle cx="249.5" cy="325.1" r="1.25"/><circle cx="250.2" cy="324.7" r="1.25"/><circle cx="250.8" cy="324.4" r="1.25"/><circle cx="251.5" cy="324.1" r="1.25"/><circle cx="252.2" cy="323.8" r="1.25"/><circle cx="252.8" cy="323.5" r="1.25"/><circle cx="253.5" cy="323.1" r="1.25"/><circle cx="254.1" cy="322.8" r="1.25"/><circle cx="254.8" cy="322.5" r="1.25"/><circle cx="255.5" cy="321.7" r="1.25"/><circle cx="256.2" cy="320.8" r="1.25"/><circle cx="256.9" cy="320.0" r="1.25"/><circle cx="257.5" cy="319.2" r="1.25"/><circle cx="258.2" cy="318.3" r="1.25"/><circle cx="258.9" cy="317.5" r="1.25"/><circle cx="259.4" cy="315.3" r="1.25"/><circle cx="260.0" cy="313.2" r="1.25"/><circle cx="260.5" cy="311.0" r="1.25"/><circle cx="261.1" cy="307.7" r="1.25"/><circle cx="261.8" cy="304.4" r="1.25"/><circle cx="262.6" cy="290.5" r="1.25"/><circle cx="263.2" cy="280.2" r="1.25"/><circle cx="263.8" cy="270.0" r="1.25"/><circle cx="264.5" cy="230.0" r="1.25"/><circle cx="265.2" cy="190.0" r="1.25"/><circle cx="265.4" cy="155.8" r="1.25"/><circle cx="266.0" cy="168.0" r="1.25"/><circle cx="266.5" cy="166.2" r="1.25"/><circle cx="267.0" cy="164.5" r="1.25"/><circle cx="267.5" cy="162.2" r="1.25"/><circle cx="268.0" cy="160.0" r="1.25"/><circle cx="268.5" cy="161.8" r="1.25"/><circle cx="269.0" cy="163.7" r="1.25"/><circle cx="269.7" cy="126.9" r="1.25"/><circle cx="270.5" cy="212.0" r="1.25"/><circle cx="271.0" cy="205.0" r="1.25"/><circle cx="271.5" cy="198.0" r="1.25"/><circle cx="272.0" cy="189.2" r="1.25"/><circle cx="272.5" cy="180.5" r="1.25"/><circle cx="273.2" cy="215.0" r="1.25"/><circle cx="273.5" cy="238.1" r="1.25"/><circle cx="274.1" cy="243.8" r="1.25"/><circle cx="274.6" cy="249.5" r="1.25"/><circle cx="275.3" cy="256.3" r="1.25"/><circle cx="275.9" cy="256.6" r="1.25"/><circle cx="276.5" cy="257.0" r="1.25"/><circle cx="277.2" cy="256.0" r="1.25"/><circle cx="278.0" cy="255.0" r="1.25"/><circle cx="278.7" cy="255.6" r="1.25"/><circle cx="279.3" cy="256.1" r="1.25"/><circle cx="280.0" cy="256.7" r="1.25"/><circle cx="280.6" cy="257.2" r="1.25"/><circle cx="281.3" cy="257.8" r="1.25"/><circle cx="281.9" cy="262.1" r="1.25"/><circle cx="282.5" cy="266.3" r="1.25"/><circle cx="283.0" cy="271.1" r="1.25"/><circle cx="283.5" cy="276.0" r="1.25"/><circle cx="284.0" cy="280.6" r="1.25"/><circle cx="284.5" cy="285.2" r="1.25"/><circle cx="285.1" cy="285.3" r="1.25"/><circle cx="285.7" cy="285.4" r="1.25"/><circle cx="286.3" cy="285.5" r="1.25"/><circle cx="286.9" cy="285.6" r="1.25"/><circle cx="287.6" cy="285.8" r="1.25"/><circle cx="288.2" cy="285.9" r="1.25"/><circle cx="288.8" cy="286.0" r="1.25"/><circle cx="289.4" cy="286.1" r="1.25"/><circle cx="290.0" cy="286.2" r="1.25"/><circle cx="290.6" cy="286.4" r="1.25"/><circle cx="291.2" cy="286.7" r="1.25"/><circle cx="291.9" cy="286.9" r="1.25"/><circle cx="292.5" cy="287.1" r="1.25"/><circle cx="293.1" cy="287.4" r="1.25"/><circle cx="293.8" cy="287.6" r="1.25"/><circle cx="294.4" cy="287.9" r="1.25"/><circle cx="295.0" cy="288.1" r="1.25"/><circle cx="295.6" cy="288.3" r="1.25"/><circle cx="296.2" cy="288.5" r="1.25"/><circle cx="296.9" cy="288.7" r="1.25"/><circle cx="297.5" cy="288.9" r="1.25"/><circle cx="298.1" cy="289.0" r="1.25"/><circle cx="298.8" cy="289.2" r="1.25"/><circle cx="299.4" cy="289.4" r="1.25"/><circle cx="300.0" cy="289.6" r="1.25"/><circle cx="300.6" cy="289.7" r="1.25"/><circle cx="301.3" cy="289.9" r="1.25"/><circle cx="301.9" cy="290.0" r="1.25"/><circle cx="302.6" cy="290.1" r="1.25"/><circle cx="303.2" cy="290.2" r="1.25"/><circle cx="303.9" cy="290.4" r="1.25"/><circle cx="304.5" cy="290.5" r="1.25"/><circle cx="305.2" cy="292.1" r="1.25"/><circle cx="306.0" cy="293.8" r="1.25"/><circle cx="306.7" cy="294.0" r="1.25"/><circle cx="307.3" cy="294.2" r="1.25"/><circle cx="308.0" cy="294.5" r="1.25"/><circle cx="308.7" cy="294.7" r="1.25"/><circle cx="309.3" cy="294.9" r="1.25"/><circle cx="310.0" cy="295.1" r="1.25"/><circle cx="310.7" cy="295.6" r="1.25"/><circle cx="311.4" cy="296.1" r="1.25"/><circle cx="312.1" cy="296.5" r="1.25"/><circle cx="312.8" cy="297.0" r="1.25"/><circle cx="313.5" cy="297.5" r="1.25"/><circle cx="314.1" cy="297.7" r="1.25"/><circle cx="314.8" cy="297.9" r="1.25"/><circle cx="315.4" cy="298.1" r="1.25"/><circle cx="316.1" cy="298.3" r="1.25"/><circle cx="316.7" cy="298.5" r="1.25"/><circle cx="317.4" cy="298.7" r="1.25"/><circle cx="318.0" cy="298.9" r="1.25"/><circle cx="318.7" cy="298.8" r="1.25"/><circle cx="319.3" cy="298.6" r="1.25"/><circle cx="320.0" cy="298.5" r="1.25"/><circle cx="320.6" cy="297.4" r="1.25"/><circle cx="321.2" cy="296.2" r="1.25"/><circle cx="321.9" cy="295.1" r="1.25"/><circle cx="322.5" cy="294.0" r="1.25"/><circle cx="323.1" cy="292.5" r="1.25"/><circle cx="323.8" cy="291.1" r="1.25"/><circle cx="324.4" cy="289.6" r="1.25"/><circle cx="325.0" cy="288.1" r="1.25"/><circle cx="325.6" cy="287.1" r="1.25"/><circle cx="326.2" cy="286.1" r="1.25"/><circle cx="326.8" cy="285.0" r="1.25"/><circle cx="327.4" cy="284.0" r="1.25"/><circle cx="328.0" cy="283.0" r="1.25"/><circle cx="328.7" cy="281.5" r="1.25"/><circle cx="329.3" cy="280.1" r="1.25"/><circle cx="330.0" cy="278.6" r="1.25"/><circle cx="330.7" cy="276.4" r="1.25"/><circle cx="331.3" cy="274.2" r="1.25"/><circle cx="332.0" cy="272.0" r="1.25"/><circle cx="332.5" cy="268.2" r="1.25"/><circle cx="333.0" cy="264.5" r="1.25"/><circle cx="333.5" cy="259.8" r="1.25"/><circle cx="334.0" cy="255.0" r="1.25"/><circle cx="334.5" cy="242.5" r="1.25"/><circle cx="335.0" cy="230.0" r="1.25"/><circle cx="335.5" cy="215.0" r="1.25"/><circle cx="336.0" cy="200.0" r="1.25"/><circle cx="336.1" cy="168.2" r="1.25"/><circle cx="336.7" cy="175.9" r="1.25"/><circle cx="337.4" cy="183.7" r="1.25"/><circle cx="338.0" cy="191.4" r="1.25"/><circle cx="338.6" cy="199.1" r="1.25"/><circle cx="339.3" cy="180.8" r="1.25"/><circle cx="340.0" cy="196.1" r="1.25"/><circle cx="340.8" cy="196.9" r="1.25"/><circle cx="341.5" cy="190.8" r="1.25"/><circle cx="342.2" cy="192.2" r="1.25"/><circle cx="342.9" cy="197.4" r="1.25"/><circle cx="343.6" cy="173.4" r="1.25"/><circle cx="344.4" cy="181.0" r="1.25"/><circle cx="345.1" cy="182.1" r="1.25"/><circle cx="345.8" cy="186.7" r="1.25"/><circle cx="346.5" cy="191.1" r="1.25"/><circle cx="347.2" cy="176.0" r="1.25"/><circle cx="348.0" cy="196.7" r="1.25"/><circle cx="348.7" cy="197.9" r="1.25"/><circle cx="349.4" cy="199.6" r="1.25"/><circle cx="350.1" cy="194.3" r="1.25"/><circle cx="350.8" cy="191.3" r="1.25"/><circle cx="351.6" cy="179.7" r="1.25"/><circle cx="352.3" cy="178.0" r="1.25"/><circle cx="353.0" cy="195.1" r="1.25"/><circle cx="353.7" cy="193.2" r="1.25"/><circle cx="354.4" cy="182.1" r="1.25"/><circle cx="355.2" cy="180.9" r="1.25"/><circle cx="355.9" cy="189.7" r="1.25"/><circle cx="356.6" cy="195.3" r="1.25"/><circle cx="357.3" cy="184.4" r="1.25"/><circle cx="358.0" cy="152.0" r="1.25"/><circle cx="358.8" cy="200.0" r="1.25"/><circle cx="359.5" cy="189.8" r="1.25"/><circle cx="360.2" cy="198.8" r="1.25"/><circle cx="360.9" cy="193.7" r="1.25"/><circle cx="361.6" cy="194.0" r="1.25"/><circle cx="362.4" cy="111.9" r="1.25"/><circle cx="363.1" cy="180.5" r="1.25"/><circle cx="363.8" cy="195.5" r="1.25"/><circle cx="364.5" cy="199.3" r="1.25"/><circle cx="365.2" cy="140.9" r="1.25"/><circle cx="366.0" cy="200.1" r="1.25"/><circle cx="366.7" cy="131.3" r="1.25"/><circle cx="367.4" cy="191.1" r="1.25"/><circle cx="368.1" cy="155.3" r="1.25"/><circle cx="368.8" cy="196.0" r="1.25"/><circle cx="369.6" cy="187.7" r="1.25"/><circle cx="370.3" cy="204.2" r="1.25"/><circle cx="371.0" cy="198.1" r="1.25"/><circle cx="371.7" cy="186.2" r="1.25"/><circle cx="372.4" cy="196.5" r="1.25"/><circle cx="373.2" cy="225.6" r="1.25"/><circle cx="373.9" cy="147.6" r="1.25"/><circle cx="374.6" cy="228.3" r="1.25"/><circle cx="375.3" cy="197.9" r="1.25"/><circle cx="376.0" cy="216.9" r="1.25"/><circle cx="376.8" cy="224.6" r="1.25"/><circle cx="377.5" cy="204.7" r="1.25"/><circle cx="378.2" cy="226.6" r="1.25"/><circle cx="378.9" cy="228.5" r="1.25"/><circle cx="379.6" cy="235.4" r="1.25"/><circle cx="380.4" cy="206.4" r="1.25"/><circle cx="381.1" cy="224.3" r="1.25"/><circle cx="381.8" cy="236.6" r="1.25"/><circle cx="382.5" cy="236.8" r="1.25"/><circle cx="383.2" cy="232.9" r="1.25"/><circle cx="384.0" cy="211.2" r="1.25"/><circle cx="384.7" cy="238.5" r="1.25"/><circle cx="385.4" cy="236.0" r="1.25"/><circle cx="386.1" cy="225.6" r="1.25"/><circle cx="386.8" cy="217.3" r="1.25"/><circle cx="387.6" cy="201.3" r="1.25"/><circle cx="388.3" cy="192.0" r="1.25"/><circle cx="389.0" cy="235.7" r="1.25"/><circle cx="389.7" cy="235.9" r="1.25"/><circle cx="390.4" cy="212.8" r="1.25"/><circle cx="391.2" cy="246.0" r="1.25"/><circle cx="391.9" cy="211.4" r="1.25"/><circle cx="392.6" cy="229.8" r="1.25"/><circle cx="393.3" cy="237.2" r="1.25"/><circle cx="394.0" cy="245.3" r="1.25"/><circle cx="394.8" cy="242.8" r="1.25"/><circle cx="395.5" cy="246.8" r="1.25"/><circle cx="396.2" cy="246.9" r="1.25"/><circle cx="396.9" cy="208.3" r="1.25"/><circle cx="397.6" cy="248.3" r="1.25"/><circle cx="398.4" cy="242.2" r="1.25"/><circle cx="399.1" cy="239.2" r="1.25"/><circle cx="399.5" cy="246.0" r="1.25"/><circle cx="400.2" cy="250.5" r="1.25"/><circle cx="401.0" cy="255.0" r="1.25"/><circle cx="401.5" cy="257.6" r="1.25"/><circle cx="402.1" cy="260.2" r="1.25"/><circle cx="402.6" cy="262.8" r="1.25"/><circle cx="403.2" cy="261.2" r="1.25"/><circle cx="403.9" cy="259.6" r="1.25"/><circle cx="404.5" cy="258.0" r="1.25"/><circle cx="405.2" cy="256.0" r="1.25"/><circle cx="406.0" cy="254.0" r="1.25"/><circle cx="406.7" cy="252.7" r="1.25"/><circle cx="407.3" cy="251.3" r="1.25"/><circle cx="408.0" cy="250.0" r="1.25"/><circle cx="408.7" cy="246.7" r="1.25"/><circle cx="409.3" cy="243.3" r="1.25"/><circle cx="410.0" cy="240.0" r="1.25"/><circle cx="410.7" cy="237.3" r="1.25"/><circle cx="411.3" cy="234.7" r="1.25"/><circle cx="412.0" cy="232.0" r="1.25"/><circle cx="412.6" cy="230.7" r="1.25"/><circle cx="413.2" cy="229.4" r="1.25"/><circle cx="413.8" cy="228.1" r="1.25"/><circle cx="414.4" cy="226.8" r="1.25"/><circle cx="415.0" cy="225.5" r="1.25"/><circle cx="415.5" cy="221.0" r="1.25"/><circle cx="416.0" cy="216.5" r="1.25"/><circle cx="416.8" cy="210.8" r="1.25"/><circle cx="417.5" cy="205.0" r="1.25"/><circle cx="418.0" cy="191.8" r="1.25"/><circle cx="418.5" cy="178.5" r="1.25"/><circle cx="418.8" cy="200.6" r="1.25"/><circle cx="419.5" cy="203.1" r="1.25"/><circle cx="420.3" cy="205.5" r="1.25"/><circle cx="421.0" cy="208.0" r="1.25"/><circle cx="421.6" cy="209.8" r="1.25"/><circle cx="422.2" cy="211.6" r="1.25"/><circle cx="422.8" cy="213.4" r="1.25"/><circle cx="423.4" cy="215.2" r="1.25"/><circle cx="424.0" cy="217.0" r="1.25"/><circle cx="424.6" cy="219.2" r="1.25"/><circle cx="425.2" cy="221.5" r="1.25"/><circle cx="425.9" cy="223.8" r="1.25"/><circle cx="426.5" cy="226.0" r="1.25"/><circle cx="427.2" cy="225.8" r="1.25"/><circle cx="428.0" cy="225.5" r="1.25"/><circle cx="429.3" cy="225.2" r="1.25"/><circle cx="430.8" cy="226.4" r="1.25"/><circle cx="432.3" cy="226.2" r="1.25"/><circle cx="433.8" cy="226.9" r="1.25"/><circle cx="435.3" cy="227.1" r="1.25"/><circle cx="436.8" cy="227.4" r="1.25"/><circle cx="438.3" cy="227.7" r="1.25"/><circle cx="439.8" cy="228.1" r="1.25"/><circle cx="441.3" cy="227.6" r="1.25"/><circle cx="442.8" cy="227.6" r="1.25"/><circle cx="444.3" cy="228.3" r="1.25"/><circle cx="445.8" cy="228.7" r="1.25"/><circle cx="447.3" cy="228.1" r="1.25"/><circle cx="448.8" cy="228.3" r="1.25"/><circle cx="450.3" cy="227.9" r="1.25"/><circle cx="451.8" cy="229.5" r="1.25"/><circle cx="453.3" cy="230.4" r="1.25"/><circle cx="454.8" cy="229.1" r="1.25"/><circle cx="456.3" cy="228.9" r="1.25"/><circle cx="457.8" cy="229.2" r="1.25"/><circle cx="459.3" cy="230.0" r="1.25"/><circle cx="460.8" cy="229.9" r="1.25"/><circle cx="462.3" cy="231.8" r="1.25"/><circle cx="463.8" cy="229.8" r="1.25"/><circle cx="465.3" cy="230.7" r="1.25"/></g>
</g>
<rect x="81.4" y="45.0" width="384.4" height="283.5" fill="none" stroke="#3c3c3c" stroke-width="2.1"/>
<path d="M81.4,328.5v-5M113.4,328.5v-3M145.5,328.5v-5M177.5,328.5v-3M209.5,328.5v-5M241.6,328.5v-3M273.6,328.5v-5M305.6,328.5v-3M337.7,328.5v-5M369.7,328.5v-3M401.7,328.5v-5M433.8,328.5v-3M465.8,328.5v-5M81.4,328.5h5M81.4,300.1h3M81.4,271.8h5M81.4,243.4h3M81.4,215.1h5M81.4,186.8h3M81.4,158.4h5M81.4,130.1h3M81.4,101.7h5M81.4,73.3h3M81.4,45.0h5" stroke="#3c3c3c" stroke-width="1.6" fill="none"/>
<g font-family="'Liberation Serif', serif" font-size="18" fill="#111">
<g text-anchor="middle"><text x="81.8" y="349.4">250</text><text x="145.9" y="349.4">750</text><text x="209.9" y="349.4">1250</text><text x="274.0" y="349.4">1750</text><text x="338.1" y="349.4">2250</text><text x="402.1" y="349.4">2750</text><text x="466.2" y="349.4">3250</text></g>
<g text-anchor="end"><text x="75.3" y="335.1">0</text><text x="75.3" y="278.4">300</text><text x="75.3" y="221.7">600</text><text x="75.3" y="165.0">900</text><text x="75.3" y="108.3">1200</text><text x="75.3" y="51.6">1500</text></g>
<text x="273.8" y="378.5" text-anchor="middle">Wavelength, <tspan font-style="italic">λ</tspan> (nm)</text>
</g>
<g font-family="'Liberation Serif', serif" font-size="18.7" fill="#111">
<text transform="translate(23,200) rotate(-90)" text-anchor="middle">Extinction coefficient, <tspan font-style="italic">K</tspan><tspan font-size="12" dy="6">e</tspan><tspan dy="-6"> (m</tspan><tspan font-size="11.5" dy="-9.5">-1</tspan><tspan dy="9.5">)</tspan></text>
</g>
<!-- legend left -->
<line x1="187.8" y1="73.6" x2="227.9" y2="73.6" stroke="#ff99ff" stroke-width="1.5"/>
<circle cx="208" cy="73.6" r="1.3" fill="#fff" stroke="#ff77ff" stroke-width="0.6"/>
<line x1="187.8" y1="95.9" x2="227.9" y2="95.9" stroke="#999" stroke-width="1.6"/>
<circle cx="208" cy="95.9" r="1.3" fill="#000"/>
<g font-family="'Liberation Serif', serif" fill="#111">
<text x="236" y="79.7" font-size="17.8">0.055wt.% CuO/oil nanofluid</text>
<text x="232" y="101.8" font-size="16.5">synthetic oil</text>
</g>
<!-- RIGHT PANEL -->
<g clip-path="url(#cr)">
<polyline points="626.5,49.5 631.3,79.0 636.0,99.3 640.8,107.8 645.6,108.9 650.3,120.5 655.1,145.4 659.8,176.4 664.6,200.0 669.4,218.5 674.1,228.5 678.9,233.8 683.7,240.2 688.4,243.7 693.2,247.0 698.0,248.9 702.7,250.7 707.5,253.6 712.2,256.2 717.0,258.0 721.8,258.8 726.5,259.2 731.3,261.5 736.1,262.7 740.8,263.6 745.6,264.5 750.4,267.5 755.1,267.5 759.9,270.7 764.6,270.9 769.4,273.3 774.2,273.8 778.9,276.3 783.7,277.1 788.5,278.0 793.2,278.0 798.0,278.5 802.8,278.8 807.5,280.0 812.3,281.1 817.0,280.8 821.8,283.1 826.6,284.1 831.3,284.9 836.1,285.6 840.9,286.1 845.6,286.7 850.4,287.1 855.2,287.9 859.9,289.7 864.7,290.9 869.5,291.2 874.2,291.7 879.0,292.7 883.7,294.4 888.5,294.4 893.3,292.7 898.0,289.3 902.8,284.8 907.6,277.3 912.3,265.4 917.1,253.6 921.9,242.4 926.6,232.2 931.4,223.3 936.1,216.3 940.9,209.4 945.7,205.1 950.4,203.1 955.2,201.2 960.0,199.4 964.7,198.2 969.5,197.2 974.3,199.0 979.0,200.5 983.8,202.1 988.5,204.3 993.3,206.3 998.1,209.4 1002.8,212.4 1007.6,214.7" fill="none" stroke="#ff0000" stroke-width="1.6"/>
<path d="M631.3,75.7L634.5,81.4L628.1,81.4ZM636.0,96.0L639.2,101.7L632.8,101.7ZM640.8,104.4L644.0,110.2L637.6,110.2ZM645.6,105.6L648.8,111.3L642.4,111.3ZM650.3,117.1L653.5,122.9L647.1,122.9ZM655.1,142.1L658.3,147.8L651.9,147.8ZM659.8,173.1L663.0,178.8L656.6,178.8ZM664.6,196.6L667.8,202.4L661.4,202.4ZM669.4,215.1L672.6,220.9L666.2,220.9ZM674.1,225.2L677.3,230.9L670.9,230.9ZM678.9,230.4L682.1,236.2L675.7,236.2ZM683.7,236.8L686.9,242.6L680.5,242.6ZM688.4,240.3L691.6,246.1L685.2,246.1ZM693.2,243.6L696.4,249.4L690.0,249.4ZM698.0,245.6L701.2,251.3L694.8,251.3ZM702.7,247.4L705.9,253.1L699.5,253.1ZM707.5,250.2L710.7,256.0L704.3,256.0ZM712.2,252.8L715.4,258.6L709.0,258.6ZM717.0,254.6L720.2,260.4L713.8,260.4ZM721.8,255.5L725.0,261.2L718.6,261.2ZM726.5,255.8L729.7,261.6L723.3,261.6ZM731.3,258.1L734.5,263.9L728.1,263.9ZM736.1,259.3L739.3,265.1L732.9,265.1ZM740.8,260.3L744.0,266.0L737.6,266.0ZM745.6,261.1L748.8,266.9L742.4,266.9ZM750.4,264.1L753.6,269.9L747.2,269.9ZM755.1,264.1L758.3,269.9L751.9,269.9ZM759.9,267.3L763.1,273.1L756.7,273.1ZM764.6,267.6L767.8,273.3L761.4,273.3ZM769.4,269.9L772.6,275.7L766.2,275.7ZM774.2,270.4L777.4,276.2L771.0,276.2ZM778.9,272.9L782.1,278.7L775.7,278.7ZM783.7,273.7L786.9,279.5L780.5,279.5ZM788.5,274.6L791.7,280.4L785.3,280.4ZM793.2,274.6L796.4,280.4L790.0,280.4ZM798.0,275.1L801.2,280.9L794.8,280.9ZM802.8,275.4L806.0,281.2L799.6,281.2ZM807.5,276.6L810.7,282.4L804.3,282.4ZM812.3,277.7L815.5,283.5L809.1,283.5ZM817.0,277.5L820.2,283.2L813.8,283.2ZM821.8,279.7L825.0,285.5L818.6,285.5ZM826.6,280.8L829.8,286.5L823.4,286.5ZM831.3,281.5L834.5,287.3L828.1,287.3ZM836.1,282.3L839.3,288.0L832.9,288.0ZM840.9,282.7L844.1,288.5L837.7,288.5ZM845.6,283.3L848.8,289.1L842.4,289.1ZM850.4,283.8L853.6,289.5L847.2,289.5ZM855.2,284.5L858.4,290.3L852.0,290.3ZM859.9,286.3L863.1,292.1L856.7,292.1ZM864.7,287.5L867.9,293.3L861.5,293.3ZM869.5,287.8L872.7,293.6L866.3,293.6ZM874.2,288.4L877.4,294.1L871.0,294.1ZM879.0,289.3L882.2,295.1L875.8,295.1ZM883.7,291.0L886.9,296.8L880.5,296.8ZM888.5,291.0L891.7,296.8L885.3,296.8ZM893.3,289.3L896.5,295.1L890.1,295.1ZM898.0,285.9L901.2,291.7L894.8,291.7ZM902.8,281.4L906.0,287.2L899.6,287.2ZM907.6,274.0L910.8,279.7L904.4,279.7ZM912.3,262.0L915.5,267.8L909.1,267.8ZM917.1,250.2L920.3,256.0L913.9,256.0ZM921.9,239.0L925.1,244.8L918.7,244.8ZM926.6,228.8L929.8,234.6L923.4,234.6ZM931.4,219.9L934.6,225.7L928.2,225.7ZM936.1,213.0L939.3,218.7L932.9,218.7ZM940.9,206.0L944.1,211.8L937.7,211.8ZM945.7,201.8L948.9,207.5L942.5,207.5ZM950.4,199.7L953.6,205.5L947.2,205.5ZM955.2,197.8L958.4,203.6L952.0,203.6ZM960.0,196.0L963.2,201.8L956.8,201.8ZM964.7,194.8L967.9,200.6L961.5,200.6ZM969.5,193.9L972.7,199.6L966.3,199.6ZM974.3,195.7L977.5,201.4L971.1,201.4ZM979.0,197.2L982.2,202.9L975.8,202.9ZM983.8,198.8L987.0,204.5L980.6,204.5ZM988.5,200.9L991.7,206.7L985.3,206.7ZM993.3,203.0L996.5,208.7L990.1,208.7ZM998.1,206.0L1001.3,211.8L994.9,211.8ZM1002.8,209.0L1006.0,214.8L999.6,214.8ZM1007.6,211.4L1010.8,217.1L1004.4,217.1Z" fill="#ff0000"/>
<polyline points="626.5,185.8 631.3,197.8 636.0,232.8 640.8,257.5 645.6,275.1 650.3,288.2 655.1,296.7 659.8,303.1 664.6,307.9 669.4,312.1 674.1,314.7 678.9,317.5 683.7,319.6 688.4,321.8 693.2,322.8 698.0,323.9 702.7,325.0 707.5,325.6 712.2,326.1 717.0,326.5 721.8,326.9 726.5,327.2 731.3,327.5 736.1,327.8 740.8,328.0 745.6,328.2 750.4,328.4 755.1,328.6 759.9,328.7 764.6,328.9 769.4,329.0 774.2,329.1 778.9,329.2 783.7,329.3 788.5,329.4 793.2,329.5 798.0,329.5 802.8,329.6 807.5,329.6 812.3,329.7 817.0,329.7 821.8,329.8 826.6,329.8 831.3,329.8 836.1,329.9 840.9,329.9 845.6,329.9 850.4,329.9 855.2,329.9 859.9,330.0 864.7,330.0 869.5,330.0 874.2,330.0 879.0,330.0 883.7,330.0 888.5,330.0 893.3,330.0 898.0,330.0 902.8,330.0 907.6,330.1 912.3,330.1 917.1,330.1 921.9,330.1 926.6,330.1 931.4,330.1 936.1,330.1 940.9,330.1 945.7,330.1 950.4,330.1 955.2,330.1 960.0,330.1 964.7,330.1 969.5,330.1 974.3,330.1 979.0,330.1 983.8,330.1 988.5,330.1 993.3,330.1 998.1,330.1 1002.8,330.1 1007.6,330.1" fill="none" stroke="#222" stroke-width="1"/>
<g fill="#000"><circle cx="631.3" cy="197.8" r="2.35"/><circle cx="636.0" cy="232.8" r="2.35"/><circle cx="640.8" cy="257.5" r="2.35"/><circle cx="645.6" cy="275.1" r="2.35"/><circle cx="650.3" cy="288.2" r="2.35"/><circle cx="655.1" cy="296.7" r="2.35"/><circle cx="659.8" cy="303.1" r="2.35"/><circle cx="664.6" cy="307.9" r="2.35"/><circle cx="669.4" cy="312.1" r="2.35"/><circle cx="674.1" cy="314.7" r="2.35"/><circle cx="678.9" cy="317.5" r="2.35"/><circle cx="683.7" cy="319.6" r="2.35"/><circle cx="688.4" cy="321.8" r="2.35"/><circle cx="693.2" cy="322.8" r="2.35"/><circle cx="698.0" cy="323.9" r="2.35"/><circle cx="702.7" cy="325.0" r="2.35"/><circle cx="707.5" cy="325.6" r="2.35"/><circle cx="712.2" cy="326.1" r="2.35"/><circle cx="717.0" cy="326.5" r="2.35"/><circle cx="721.8" cy="326.9" r="2.35"/><circle cx="726.5" cy="327.2" r="2.35"/><circle cx="731.3" cy="327.5" r="2.35"/><circle cx="736.1" cy="327.8" r="2.35"/><circle cx="740.8" cy="328.0" r="2.35"/><circle cx="745.6" cy="328.2" r="2.35"/><circle cx="750.4" cy="328.4" r="2.35"/><circle cx="755.1" cy="328.6" r="2.35"/><circle cx="759.9" cy="328.7" r="2.35"/><circle cx="764.6" cy="328.9" r="2.35"/><circle cx="769.4" cy="329.0" r="2.35"/><circle cx="774.2" cy="329.1" r="2.35"/><circle cx="778.9" cy="329.2" r="2.35"/><circle cx="783.7" cy="329.3" r="2.35"/><circle cx="788.5" cy="329.4" r="2.35"/><circle cx="793.2" cy="329.5" r="2.35"/><circle cx="798.0" cy="329.5" r="2.35"/><circle cx="802.8" cy="329.6" r="2.35"/><circle cx="807.5" cy="329.6" r="2.35"/><circle cx="812.3" cy="329.7" r="2.35"/><circle cx="817.0" cy="329.7" r="2.35"/><circle cx="821.8" cy="329.8" r="2.35"/><circle cx="826.6" cy="329.8" r="2.35"/><circle cx="831.3" cy="329.8" r="2.35"/><circle cx="836.1" cy="329.9" r="2.35"/><circle cx="840.9" cy="329.9" r="2.35"/><circle cx="845.6" cy="329.9" r="2.35"/><circle cx="850.4" cy="329.9" r="2.35"/><circle cx="855.2" cy="329.9" r="2.35"/><circle cx="859.9" cy="330.0" r="2.35"/><circle cx="864.7" cy="330.0" r="2.35"/><circle cx="869.5" cy="330.0" r="2.35"/><circle cx="874.2" cy="330.0" r="2.35"/><circle cx="879.0" cy="330.0" r="2.35"/><circle cx="883.7" cy="330.0" r="2.35"/><circle cx="888.5" cy="330.0" r="2.35"/><circle cx="893.3" cy="330.0" r="2.35"/><circle cx="898.0" cy="330.0" r="2.35"/><circle cx="902.8" cy="330.0" r="2.35"/><circle cx="907.6" cy="330.1" r="2.35"/><circle cx="912.3" cy="330.1" r="2.35"/><circle cx="917.1" cy="330.1" r="2.35"/><circle cx="921.9" cy="330.1" r="2.35"/><circle cx="926.6" cy="330.1" r="2.35"/><circle cx="931.4" cy="330.1" r="2.35"/><circle cx="936.1" cy="330.1" r="2.35"/><circle cx="940.9" cy="330.1" r="2.35"/><circle cx="945.7" cy="330.1" r="2.35"/><circle cx="950.4" cy="330.1" r="2.35"/><circle cx="955.2" cy="330.1" r="2.35"/><circle cx="960.0" cy="330.1" r="2.35"/><circle cx="964.7" cy="330.1" r="2.35"/><circle cx="969.5" cy="330.1" r="2.35"/><circle cx="974.3" cy="330.1" r="2.35"/><circle cx="979.0" cy="330.1" r="2.35"/><circle cx="983.8" cy="330.1" r="2.35"/><circle cx="988.5" cy="330.1" r="2.35"/><circle cx="993.3" cy="330.1" r="2.35"/><circle cx="998.1" cy="330.1" r="2.35"/><circle cx="1002.8" cy="330.1" r="2.35"/><circle cx="1007.6" cy="330.1" r="2.35"/></g>
</g>
<rect x="626.5" y="49.5" width="381.1" height="282.1" fill="none" stroke="#000" stroke-width="1.8"/>
<path d="M626.5,331.6v-7M674.1,331.6v-4M721.8,331.6v-7M769.4,331.6v-4M817.0,331.6v-7M864.7,331.6v-4M912.3,331.6v-7M960.0,331.6v-4M1007.6,331.6v-7M626.5,331.6h7M626.5,308.1h4M626.5,284.6h7M626.5,261.1h4M626.5,237.6h7M626.5,214.1h4M626.5,190.6h7M626.5,167.0h4M626.5,143.5h7M626.5,120.0h4M626.5,96.5h7M626.5,73.0h4M626.5,49.5h7" stroke="#000" stroke-width="1.6" fill="none"/>
<g font-family="'Liberation Serif', serif" font-size="17.5" fill="#111">
<g text-anchor="middle"><text transform="translate(626.5,353.8) scale(0.93,1.08)">400</text><text transform="translate(721.8,353.8) scale(0.93,1.08)">500</text><text transform="translate(817.0,353.8) scale(0.93,1.08)">600</text><text transform="translate(912.3,353.8) scale(0.93,1.08)">700</text><text transform="translate(1007.6,353.8) scale(0.93,1.08)">800</text></g>
<g text-anchor="end"><text transform="translate(618.2,337.5) scale(0.93,1.08)">0</text><text transform="translate(618.2,290.5) scale(0.93,1.08)">50</text><text transform="translate(618.2,243.5) scale(0.93,1.08)">100</text><text transform="translate(618.2,196.5) scale(0.93,1.08)">150</text><text transform="translate(618.2,149.4) scale(0.93,1.08)">200</text><text transform="translate(618.2,102.4) scale(0.93,1.08)">250</text><text transform="translate(618.2,55.4) scale(0.93,1.08)">300</text></g>
</g>
<text x="817" y="386" text-anchor="middle" font-family="'Liberation Serif', serif" font-size="20" fill="#111">wavelength, <tspan font-style="italic">λ</tspan> (nm)</text>
<text transform="translate(568,182) rotate(-90)" text-anchor="middle" font-family="'Liberation Serif', serif" font-size="20" fill="#111">Absorption coefficient, <tspan font-style="italic">K</tspan><tspan font-size="13" dy="6">a</tspan><tspan dy="-6"> (m</tspan><tspan font-size="12.5" dy="-10.5">-1</tspan><tspan dy="10.5">)</tspan></text>
<!-- legend right -->
<line x1="720.6" y1="79.5" x2="761.9" y2="79.5" stroke="#ff0000" stroke-width="1.5"/>
<path d="M741.2,76.3L744,81.2L738.4,81.2Z" fill="#ff0000"/>
<line x1="720.6" y1="124.8" x2="761.9" y2="124.8" stroke="#444" stroke-width="1.2"/>
<circle cx="741.2" cy="124.8" r="2.7" fill="#000"/>
<g font-family="'Liberation Serif', serif" font-size="18.4" fill="#111">
<text x="767" y="85.8">0.055wt.% CuO/oil nanofluid</text>
<text x="767" y="130.9">synthetic oil</text>
</g>
</svg></body></html>
